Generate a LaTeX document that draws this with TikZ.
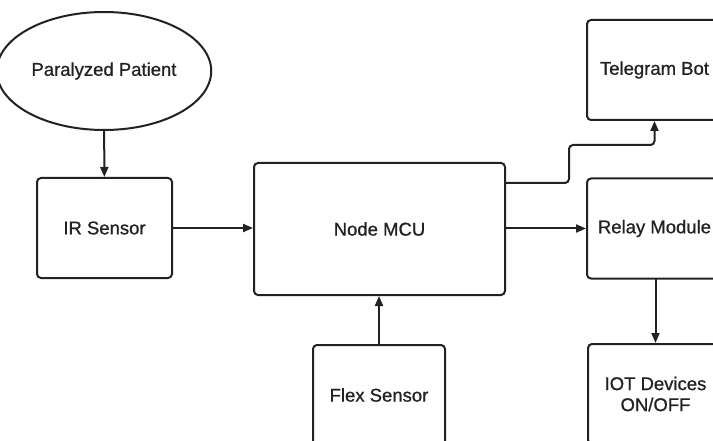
\documentclass[tikz,border=0pt]{standalone}
\usepackage{fontspec}
\setmainfont[FakeBold=0.8]{Liberation Sans}
\usetikzlibrary{arrows.meta, shapes.geometric}
\definecolor{lineC}{HTML}{222222}
\tikzset{
    block/.style={draw=lineC, line width=2pt, rounded corners=4pt, minimum width=135pt, minimum height=100pt, align=center, text=lineC, font=\fontsize{18.5}{21}\selectfont},
    oval/.style={ellipse, draw=lineC, line width=2pt, minimum width=185pt, minimum height=118pt, text=lineC, font=\fontsize{18.5}{21}\selectfont},
    conn/.style={draw=lineC, line width=2pt, -{Triangle[length=10pt,width=8pt]}}
}

\begin{document}
\begin{tikzpicture}[x=1pt, y=-1pt]
        \useasboundingbox[fill=white] (0,0) rectangle (713,441);
        \clip (0,0) rectangle (713,441);

        \node[oval] (patient) at (104,71) {Paralyzed Patient};
        \node[block] (ir) at (104.5,228) {IR Sensor};
        \node[block, minimum width=251pt, minimum height=132pt] (mcu) at (379.5,229) {Node MCU};
        \node[block, minimum width=132pt] (flex) at (379,395) {Flex Sensor};

        \node[block] (tg) at (654.5,70) {Telegram Bot};
        \node[block] (relay) at (654.5,228.5) {Relay Module};
        \node[block] (iot) at (655.5,394) {IOT Devices\\ON/OFF};

        \draw[conn] (patient) -- (ir);
        \draw[conn] (ir.east) -- (ir.east -| mcu.west);
        \draw[conn] (flex.north) -- (flex.north |- mcu.south);
        \draw[conn] (mcu.east |- relay.west) -- (relay.west);
        \draw[conn, rounded corners=4pt] ([yshift=46pt]mcu.east) -- ++(63,0) -- ++(0,-38) -| (tg.south);
        \draw[conn] (relay.south) -- (relay.south -| iot.north) -- (iot.north);
    \end{tikzpicture}
\end{document}
